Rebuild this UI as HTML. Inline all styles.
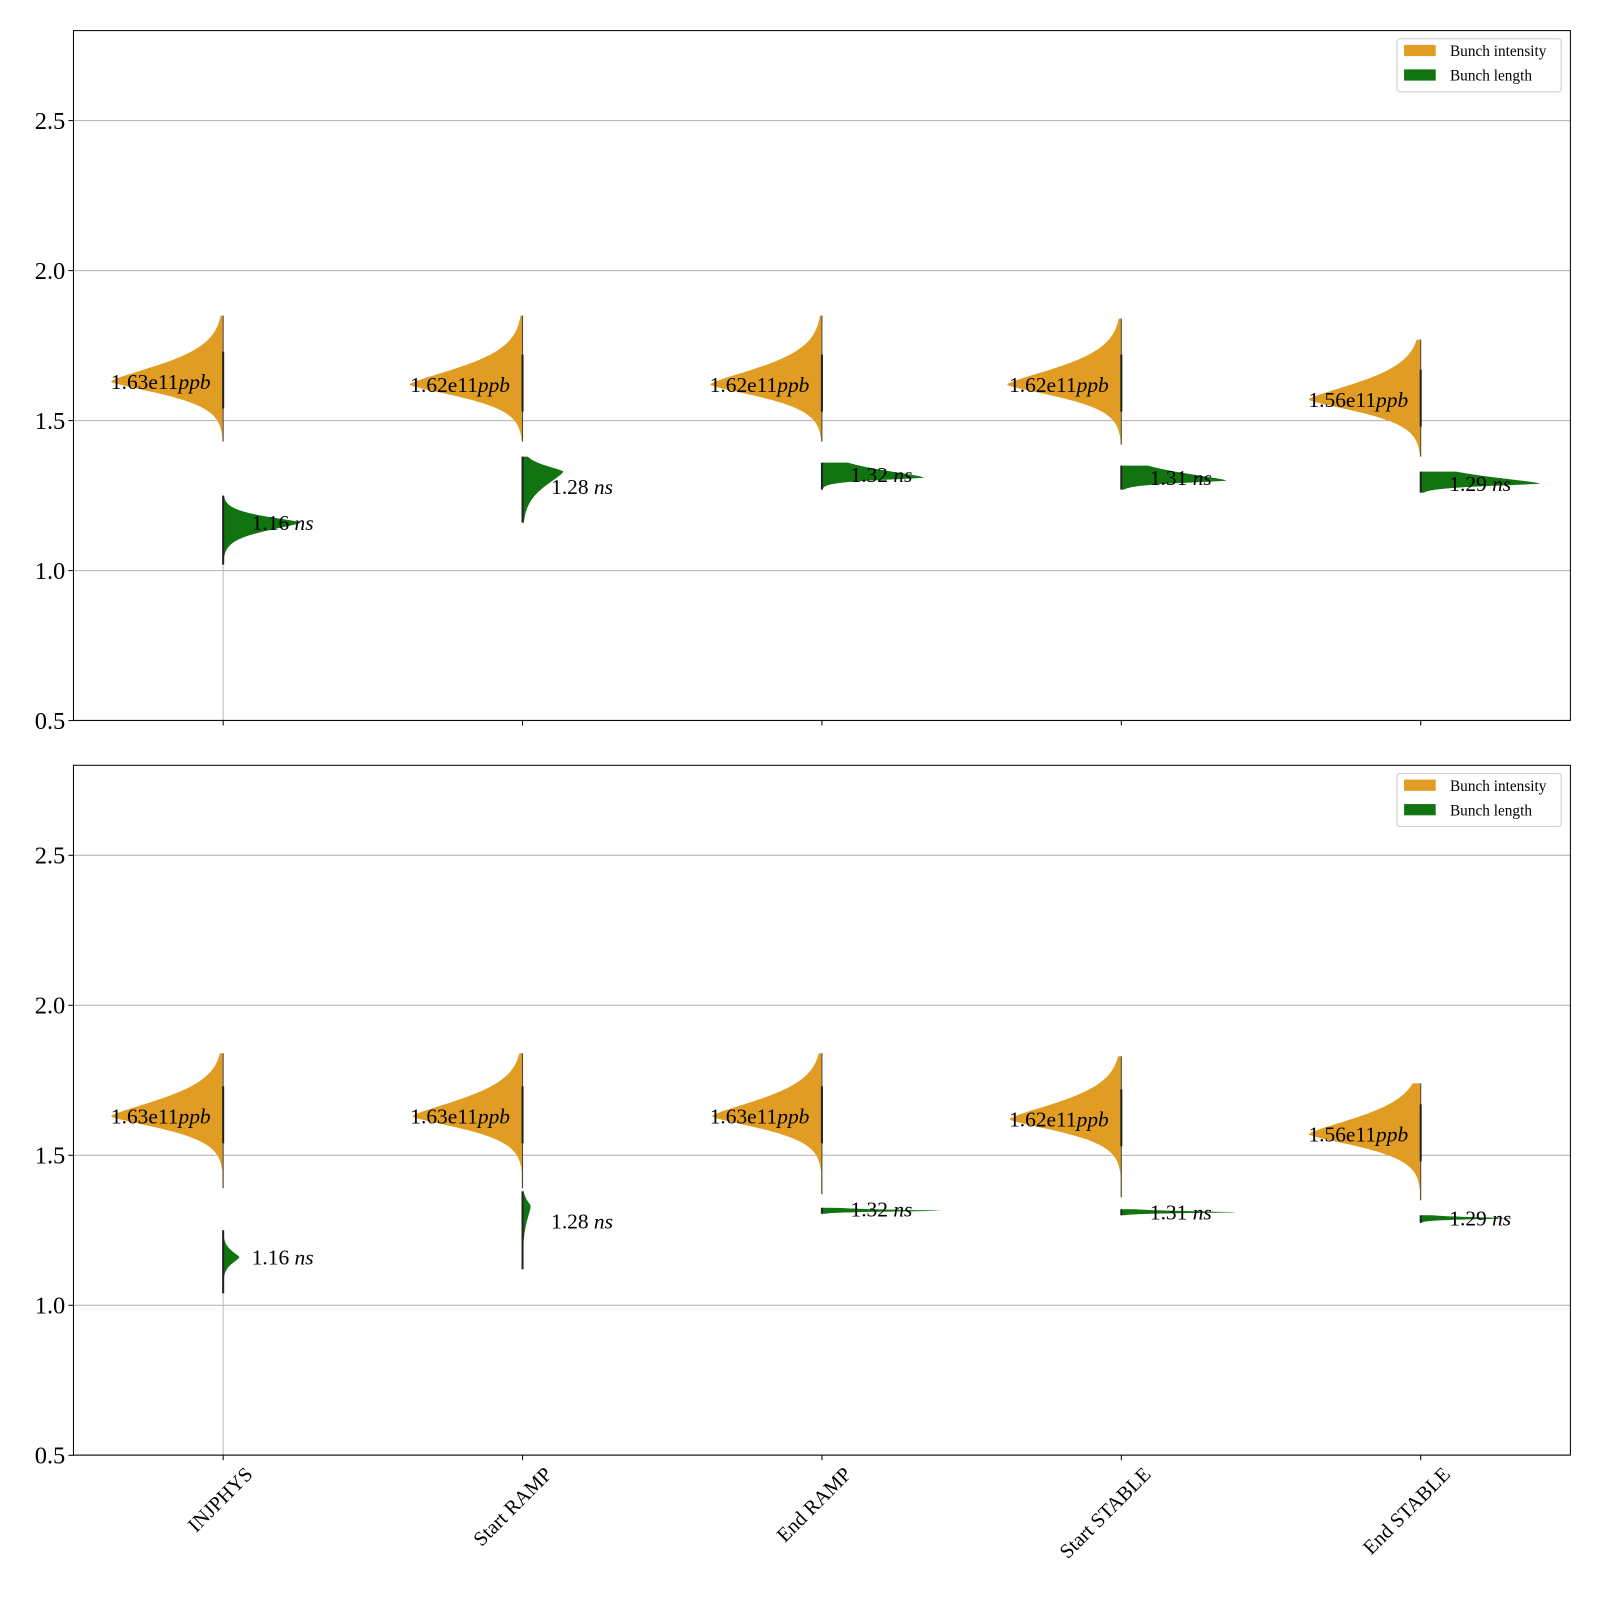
<!DOCTYPE html>
<html><head><meta charset="utf-8"><style>
html,body{margin:0;padding:0;background:#fff;overflow:hidden;width:1600px;height:1600px}
svg{display:block}
svg text{font-family:"Liberation Serif",serif}
</style></head><body>
<svg width="1600" height="1600" xmlns="http://www.w3.org/2000/svg"><g id="s" transform="scale(1.0204)"></g></svg>
<script>
const categories=["INJPHYS","Start RAMP","End RAMP","Start STABLE","End STABLE"];
const yTicks=[0.5,1.0,1.5,2.0,2.5];
// top panel
const p1IntPeak=[1.63,1.62,1.62,1.62,1.57];
const p1IntWidth=[110,111,110,112,110];
const p1IntMin=[1.43,1.43,1.43,1.42,1.38];
const p1IntMax=[1.85,1.85,1.85,1.84,1.77];
const p1LenPeak=[1.16,1.33,1.31,1.30,1.29];
const p1LenLabel=[1.16,1.28,1.32,1.31,1.29];
const p1LenWidth=[76,40,100,103,117];
const p1LenMin=[1.02,1.16,1.27,1.27,1.26];
const p1LenMax=[1.25,1.38,1.36,1.35,1.33];
const p1LenUp=[0.03,0.03,0.04,0.04,0.035];
const p1LenDown=[0.04,0.07,0.012,0.012,0.012];
const p1IntLabel=["1.63e11","1.62e11","1.62e11","1.62e11","1.56e11"];
// bottom panel
const p2IntPeak=[1.63,1.63,1.63,1.62,1.57];
const p2IntWidth=[110,108,108,110,110];
const p2IntMin=[1.39,1.39,1.37,1.36,1.35];
const p2IntMax=[1.84,1.84,1.84,1.83,1.74];
const p2LenPeak=[1.16,1.33,1.315,1.31,1.29];
const p2LenLabel=[1.16,1.28,1.32,1.31,1.29];
const p2LenWidth=[16,8,118,113,90];
const p2LenMin=[1.04,1.12,1.305,1.30,1.275];
const p2LenMax=[1.25,1.38,1.325,1.32,1.30];
const p2LenUp=[0.03,0.03,0.006,0.006,0.006];
const p2LenDown=[0.03,0.07,0.004,0.004,0.005];
const p2IntLabel=["1.63e11","1.63e11","1.63e11","1.62e11","1.56e11"];

const S=document.getElementById('s');const NS="http://www.w3.org/2000/svg";
function mk(t,a,txt){const e=document.createElementNS(NS,t);for(const k in a)e.setAttribute(k,a[k]);if(txt!==undefined)e.textContent=txt;S.appendChild(e);return e;}
const L=72,R=1539;
const xs=i=>L+(i+0.5)*(R-L)/5;
function violin(x0,dir,peak,w,mn,mx,su,sd,ys){
  let pts=[];const N=120;
  for(let k=0;k<=N;k++){const v=mx-(mx-mn)*k/N;const s=v>peak?su:sd;const ww=w*Math.exp(-Math.pow(Math.abs(v-peak)/s,1.4));pts.push([x0+dir*Math.max(ww,0.8),ys(v)]);}
  return `M${x0},${ys(mx)} `+pts.map(p=>`L${p[0].toFixed(1)},${p[1].toFixed(1)}`).join(' ')+` L${x0},${ys(mn)} Z`;
}
function panel(top,intPeak,intW,intMin,intMax,lenPeak,lenLab,lenW,lenMin,lenMax,lenUp,lenDown,intLab){
  const bot=top+676;const ys=v=>top+(2.8-v)*294;
  yTicks.forEach(t=>{
    const g=mk('line',{x1:L,x2:R,y1:ys(t),y2:ys(t),stroke:'#b0b0b0','stroke-width':1});
    
    mk('line',{x1:L-5,x2:L,y1:ys(t),y2:ys(t),stroke:'#000'});
    const tl=mk('text',{x:L-8,y:ys(t)+8,'text-anchor':'end','font-size':24},t.toFixed(1));
    
  });
  mk('line',{x1:xs(0),x2:xs(0),y1:ys(lenMin[0]),y2:bot,stroke:'#bbb','stroke-width':1});
  categories.forEach((c,i)=>{
    const x0=xs(i);
    mk('line',{x1:x0,x2:x0,y1:bot,y2:bot+5,stroke:'#000'});
    const a=mk('path',{d:violin(x0,-1,intPeak[i],intW[i],intMin[i],intMax[i],0.085,0.06,ys),fill:'#e09c23'});
    
    const b=mk('path',{d:violin(x0,1,lenPeak[i],lenW[i],lenMin[i],lenMax[i],lenUp[i],lenDown[i],ys),fill:'#117411'});
    
    mk('line',{x1:x0,x2:x0,y1:ys(intMax[i]),y2:ys(intMin[i]),stroke:'#444','stroke-width':1});
    mk('line',{x1:x0,x2:x0,y1:ys(intPeak[i]+0.1),y2:ys(intPeak[i]-0.09),stroke:'#222','stroke-width':2});
    mk('line',{x1:x0,x2:x0,y1:ys(lenMax[i]),y2:ys(lenMin[i]),stroke:'#222','stroke-width':2});
    const t1=mk('text',{x:x0-110,y:ys(intPeak[i])+7,'font-size':21});
    
    t1.innerHTML=intLab[i]+'<tspan font-style="italic">ppb</tspan>';
    const t2=mk('text',{x:x0+28,y:ys(lenLab[i])+7,'font-size':21});
    
    t2.innerHTML=lenLab[i].toFixed(2)+' <tspan font-style="italic">ns</tspan>';
  });
  mk('rect',{x:L,y:top,width:R-L,height:676,fill:'none',stroke:'#000','stroke-width':1});
  const lg=mk('rect',{x:1369,y:top+8,width:161,height:52,fill:'#fff',stroke:'#ccc',rx:3});
  
  mk('rect',{x:1376,y:top+14,width:31,height:11,fill:'#e09c23'});
  mk('rect',{x:1376,y:top+38,width:31,height:11,fill:'#117411'});
  const l1=mk('text',{x:1421,y:top+25,'font-size':15},'Bunch intensity');
  
  const l2=mk('text',{x:1421,y:top+49,'font-size':15},'Bunch length');
  
}
panel(30,p1IntPeak,p1IntWidth,p1IntMin,p1IntMax,p1LenPeak,p1LenLabel,p1LenWidth,p1LenMin,p1LenMax,p1LenUp,p1LenDown,p1IntLabel);
panel(750,p2IntPeak,p2IntWidth,p2IntMin,p2IntMax,p2LenPeak,p2LenLabel,p2LenWidth,p2LenMin,p2LenMax,p2LenUp,p2LenDown,p2IntLabel);
categories.forEach((c,i)=>{
  const x=xs(i)+30,y=1446;
  const t=mk('text',{x:x,y:y,'font-size':20,'text-anchor':'end',transform:`rotate(-45 ${x} ${y})`},c);
  
});
</script>
</body></html>
